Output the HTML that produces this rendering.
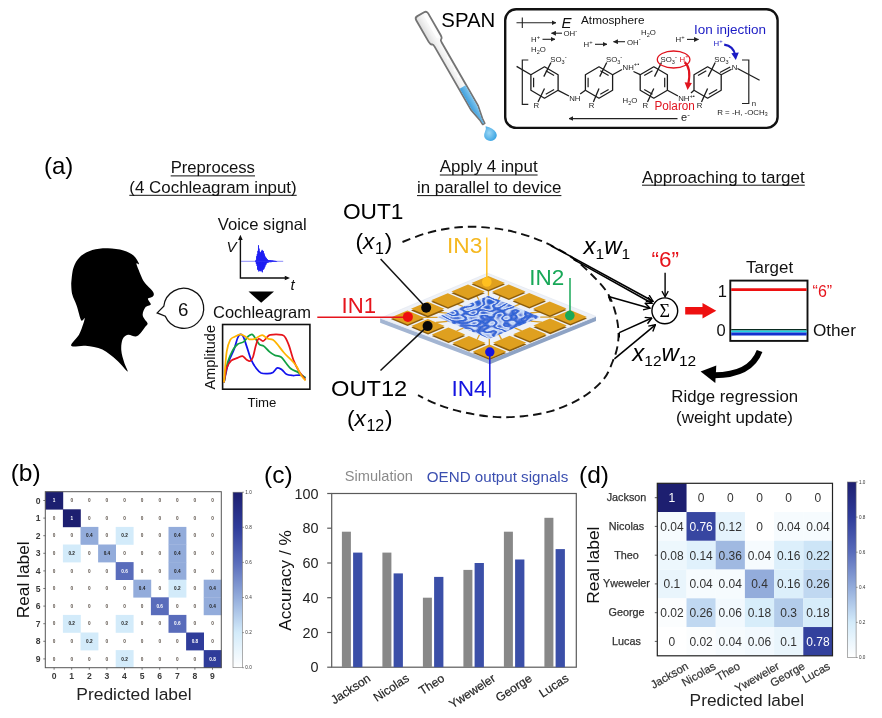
<!DOCTYPE html>
<html><head><meta charset="utf-8"><title>Figure</title>
<style>
html,body{margin:0;padding:0;background:#fff;}
svg{display:block;font-family:"Liberation Sans",sans-serif;}
.it{font-style:italic;}
</style></head><body>
<svg width="882" height="718" viewBox="0 0 882 718">
<defs>
<linearGradient id="cb" x1="0" y1="1" x2="0" y2="0">
<stop offset="0" stop-color="#ffffff"/>
<stop offset="0.2" stop-color="#d3ebfa"/>
<stop offset="0.4" stop-color="#93acdb"/>
<stop offset="0.6" stop-color="#596cbb"/>
<stop offset="0.8" stop-color="#2f3c9a"/>
<stop offset="1" stop-color="#1d1f70"/>
</linearGradient>
<linearGradient id="liq" x1="0" y1="0" x2="0" y2="1"><stop offset="0" stop-color="#7cc4ee"/><stop offset="1" stop-color="#3f9fdc"/></linearGradient>
<linearGradient id="glass" x1="0" y1="0" x2="0" y2="1"><stop offset="0" stop-color="#ffffff"/><stop offset="0.5" stop-color="#f4f4f4"/><stop offset="1" stop-color="#dcdcdc"/></linearGradient>
<radialGradient id="drop" cx="0.4" cy="0.45" r="0.7"><stop offset="0" stop-color="#9ad6f5"/><stop offset="1" stop-color="#2f9ee0"/></radialGradient>
<marker id="ah" viewBox="0 0 10 10" refX="9" refY="5" markerWidth="7" markerHeight="7" orient="auto-start-reverse"><path d="M0 0 L10 5 L0 10 Z" fill="#222"/></marker>
<marker id="ahs" viewBox="0 0 10 10" refX="9" refY="5" markerWidth="4.5" markerHeight="4.5" orient="auto-start-reverse"><path d="M0 0 L10 5 L0 10 Z" fill="#222"/></marker>
<marker id="av" viewBox="0 0 10 10" refX="9" refY="5" markerWidth="5.4" markerHeight="5.4" orient="auto"><path d="M1.5 0.8 L9 5 L1.5 9.2" fill="none" stroke="#000" stroke-width="1.7"/></marker>
<filter id="film" x="0" y="0" width="1" height="1">
<feTurbulence type="fractalNoise" baseFrequency="0.095 0.19" numOctaves="1" seed="3" result="n"/>
<feColorMatrix in="n" type="matrix" values="0 0 0 0 0  0 0 0 0 0  0 0 0 0 0  1 0 0 0 0" result="m0"/>
<feComponentTransfer in="m0" result="m"><feFuncA type="table" tableValues="0 0 0 0 0 0 .1 .7 1 .1 0 .1 1 .7 .1 0 0 0 0 0 0"/></feComponentTransfer>
<feFlood flood-color="#d2e3fb" result="w"/>
<feComposite in="w" in2="m" operator="in" result="wm"/>
<feFlood flood-color="#2a62d6" result="bl"/>
<feMerge><feMergeNode in="bl"/><feMergeNode in="wm"/></feMerge>
<feComposite in2="SourceGraphic" operator="in"/>
</filter>
</defs>
<rect width="882" height="718" fill="#fff"/>

<g id="top">
<g transform="translate(420.7 14.2) rotate(60.1)">
<path d="M3 -6.9 Q0 -6.9 0 -3.9 L0 3.9 Q0 6.9 3 6.9 L28 6.9 Q31.5 6.9 32 5 Q32.5 4.1 35 4.1 L108 4.1 L121 1.5 L126.5 1.1 L126.5 -1.1 L121 -1.5 L108 -4.1 L35 -4.1 Q32.5 -4.1 32 -5 Q31.5 -6.9 28 -6.9 Z" fill="url(#glass)" stroke="#747474" stroke-width="1.8" stroke-linejoin="round"/>
<path d="M84 -3.3 L108 -3.3 L121 -0.9 L126 -0.6 L126 0.6 L121 0.9 L108 3.3 L84 3.3 Z" fill="url(#liq)"/>
<path d="M4 -3.2 L28 -3.2" stroke="#fff" stroke-width="2.6" stroke-linecap="round" opacity="0.9"/>
<path d="M50 -1.5 L53 -1.5 M57 -1.5 L60 -1.5 M64 -1.5 L67 -1.5 M71 -1.5 L74 -1.5" stroke="#fff" stroke-width="1.4"/>
</g>
<path d="M485.6 126.2 Q486.5 129 484.9 132 Q482.8 136.5 486.2 139.6 Q490 142.3 494.3 139.8 Q498 136.6 496 132.4 Q493.5 128 485.6 126.2 Z" fill="url(#drop)"/>
<text x="441.3" y="27.2" font-size="19.8" textLength="54" lengthAdjust="spacingAndGlyphs" fill="#000">SPAN</text>
<rect x="505.2" y="9.3" width="272.4" height="118.6" rx="11" ry="11" fill="#fff" stroke="#111" stroke-width="2.4"/>
<g stroke="#222" stroke-width="1.1" fill="none">
<path d="M516.5 22.7 L556 22.7" marker-end="url(#ahs)"/><path d="M522.3 17.5 L522.3 27.9"/>
</g>
<text x="561.5" y="27.6" font-size="15" class="it" fill="#111">E</text>
<text x="581" y="24" font-size="11.8" fill="#111" textLength="63.5" lengthAdjust="spacingAndGlyphs">Atmosphere</text>
<path d="M562.0 33.2 L551.5 33.2" stroke="#222" stroke-width="1.1" fill="none" marker-end="url(#ahs)"/>
<text x="563.5" y="36.0" font-size="7.8" fill="#222" text-anchor="start">OH<tspan font-size="5.8" dy="-3.4">-</tspan></text>
<text x="531.0" y="42.0" font-size="7.8" fill="#222" text-anchor="start">H<tspan font-size="5.8" dy="-3.4">+</tspan></text>
<path d="M542.5 39.3 L555.0 39.3" stroke="#222" stroke-width="1.1" fill="none" marker-end="url(#ahs)"/>
<text x="531" y="52" font-size="7.8" fill="#222">H<tspan font-size="5.5" dy="1.8">2</tspan><tspan dy="-1.8">O</tspan></text>
<text x="583.5" y="47.0" font-size="7.8" fill="#222" text-anchor="start">H<tspan font-size="5.8" dy="-3.4">+</tspan></text>
<path d="M595.0 44.3 L607.0 44.3" stroke="#222" stroke-width="1.1" fill="none" marker-end="url(#ahs)"/>
<path d="M625.0 41.7 L613.5 41.7" stroke="#222" stroke-width="1.1" fill="none" marker-end="url(#ahs)"/>
<text x="627.0" y="44.5" font-size="7.8" fill="#222" text-anchor="start">OH<tspan font-size="5.8" dy="-3.4">-</tspan></text>
<text x="641" y="35" font-size="7.8" fill="#222">H<tspan font-size="5.5" dy="1.8">2</tspan><tspan dy="-1.8">O</tspan></text>
<text x="675.5" y="42.0" font-size="7.8" fill="#222" text-anchor="start">H<tspan font-size="5.8" dy="-3.4">+</tspan></text>
<path d="M687.0 39.4 L698.5 39.4" stroke="#222" stroke-width="1.1" fill="none" marker-end="url(#ahs)"/>
<text x="622.5" y="103" font-size="7.8" fill="#222">H<tspan font-size="5.5" dy="1.8">2</tspan><tspan dy="-1.8">O</tspan></text>
<text x="694" y="34.4" font-size="13.6" fill="#1b1bc4" textLength="72" lengthAdjust="spacingAndGlyphs">Ion injection</text>
<text x="713.5" y="46.3" font-size="7.8" fill="#1b1bc4" text-anchor="start">H<tspan font-size="5.8" dy="-3.4">+</tspan></text>
<path d="M724.2 44.6 Q733.5 46 735.2 55" stroke="#1b1bc4" stroke-width="2.2" fill="none"/><path d="M731.3 53.2 L735.8 60 L738.8 52.4 Z" fill="#1b1bc4"/>
<g>
<path d="M544.5 66.8 L558.1 74.7 L558.1 90.3 L544.5 98.2 L530.9 90.3 L530.9 74.7 Z" fill="none" stroke="#1c1c1c" stroke-width="1.3" stroke-linejoin="round"/>
<path d="M545.8 70.7 L554.1 75.5" stroke="#1c1c1c" stroke-width="1.2" fill="none"/>
<path d="M554.1 89.5 L545.8 94.3" stroke="#1c1c1c" stroke-width="1.2" fill="none"/>
<path d="M533.6 87.3 L533.6 77.7" stroke="#1c1c1c" stroke-width="1.2" fill="none"/>
<path d="M599.0 66.8 L612.6 74.7 L612.6 90.3 L599.0 98.2 L585.4 90.3 L585.4 74.7 Z" fill="none" stroke="#1c1c1c" stroke-width="1.3" stroke-linejoin="round"/>
<path d="M600.3 70.7 L608.6 75.5" stroke="#1c1c1c" stroke-width="1.2" fill="none"/>
<path d="M608.6 89.5 L600.3 94.3" stroke="#1c1c1c" stroke-width="1.2" fill="none"/>
<path d="M588.1 87.3 L588.1 77.7" stroke="#1c1c1c" stroke-width="1.2" fill="none"/>
<path d="M653.8 66.8 L667.4 74.7 L667.4 90.3 L653.8 98.2 L640.2 90.3 L640.2 74.7 Z" fill="none" stroke="#1c1c1c" stroke-width="1.3" stroke-linejoin="round"/>
<path d="M644.2 75.5 L652.5 70.7" stroke="#1c1c1c" stroke-width="1.2" fill="none"/>
<path d="M664.7 77.7 L664.7 87.3" stroke="#1c1c1c" stroke-width="1.2" fill="none"/>
<path d="M652.5 94.3 L644.2 89.5" stroke="#1c1c1c" stroke-width="1.2" fill="none"/>
<path d="M707.6 66.8 L721.2 74.7 L721.2 90.3 L707.6 98.2 L694.0 90.3 L694.0 74.7 Z" fill="none" stroke="#1c1c1c" stroke-width="1.3" stroke-linejoin="round"/>
<path d="M698.0 75.5 L706.3 70.7" stroke="#1c1c1c" stroke-width="1.2" fill="none"/>
<path d="M717.2 89.5 L708.9 94.3" stroke="#1c1c1c" stroke-width="1.2" fill="none"/>
<path d="M516.6 66.4 L530.9 74.7" stroke="#1c1c1c" stroke-width="1.30" fill="none"/>
<path d="M551.0 62.5 L543.8 76.6" stroke="#1c1c1c" stroke-width="1.30" fill="none"/>
<path d="M544.5 88.5 L538.0 102.0" stroke="#1c1c1c" stroke-width="1.30" fill="none"/>
<text x="550.3" y="62.0" font-size="7.8" fill="#222" text-anchor="start">SO<tspan font-size="5.5" dy="1.8">3</tspan><tspan font-size="5.8" dy="-5.2">-</tspan></text>
<text x="533.6" y="108.3" font-size="7.8" fill="#222">R</text>
<path d="M558.1 90.3 L569.0 96.0" stroke="#1c1c1c" stroke-width="1.30" fill="none"/>
<text x="569.2" y="101" font-size="7.8" fill="#222">NH</text>
<path d="M580.2 94.0 L585.4 90.3" stroke="#1c1c1c" stroke-width="1.30" fill="none"/>
<path d="M528.3 60 L522.3 60 L522.3 104.3 L528.3 104.3" fill="none" stroke="#222" stroke-width="1.2"/>
<path d="M606.7 62.5 L599.7 76.6" stroke="#1c1c1c" stroke-width="1.30" fill="none"/>
<path d="M599.0 88.5 L593.4 102.0" stroke="#1c1c1c" stroke-width="1.30" fill="none"/>
<text x="606.0" y="62.0" font-size="7.8" fill="#222" text-anchor="start">SO<tspan font-size="5.5" dy="1.8">3</tspan><tspan font-size="5.8" dy="-5.2">-</tspan></text>
<text x="588.7" y="108.3" font-size="7.8" fill="#222">R</text>
<path d="M612.6 74.7 L622.0 69.5" stroke="#1c1c1c" stroke-width="1.30" fill="none"/>
<text x="622.6" y="69.5" font-size="7.8" fill="#222" text-anchor="start">NH<tspan font-size="5.8" dy="-3.4">+•</tspan></text>
<path d="M633.5 71.5 L640.2 74.7" stroke="#1c1c1c" stroke-width="1.30" fill="none"/>
<path d="M661.5 62.5 L654.5 76.6" stroke="#1c1c1c" stroke-width="1.30" fill="none"/>
<path d="M653.8 88.5 L647.5 102.0" stroke="#1c1c1c" stroke-width="1.30" fill="none"/>
<text x="642.5" y="108.3" font-size="7.8" fill="#222">R</text>
<ellipse cx="673.6" cy="59.5" rx="16.3" ry="8.5" fill="none" stroke="#e0141e" stroke-width="1.3"/>
<text x="660.6" y="62.3" font-size="7.8" fill="#222" text-anchor="start">SO<tspan font-size="5.5" dy="1.8">3</tspan><tspan font-size="5.8" dy="-5.2">-</tspan></text>
<text x="679.5" y="61.5" font-size="7.8" fill="#e0141e" text-anchor="start">H<tspan font-size="5.8" dy="-3.4">+</tspan></text>
<path d="M667.4 90.3 L678.0 96.0" stroke="#1c1c1c" stroke-width="1.30" fill="none"/>
<text x="678.2" y="101.0" font-size="7.8" fill="#222" text-anchor="start">NH<tspan font-size="5.8" dy="-3.4">+•</tspan></text>
<path d="M691.0 93.0 L694.0 90.3" stroke="#1c1c1c" stroke-width="1.30" fill="none"/>
<path d="M684.6 62.2 Q691.5 68 688.3 84" stroke="#e0141e" stroke-width="2.2" fill="none"/><path d="M684.6 82.3 L687.6 90 L691.9 83 Z" fill="#e0141e"/>
<text x="654.4" y="110.2" font-size="12" fill="#e0141e" textLength="40.5" lengthAdjust="spacingAndGlyphs">Polaron</text>
<path d="M715.2 62.5 L708.2 76.6" stroke="#1c1c1c" stroke-width="1.30" fill="none"/>
<path d="M707.6 88.5 L701.5 102.0" stroke="#1c1c1c" stroke-width="1.30" fill="none"/>
<text x="714.3" y="62.0" font-size="7.8" fill="#222" text-anchor="start">SO<tspan font-size="5.5" dy="1.8">3</tspan><tspan font-size="5.8" dy="-5.2">-</tspan></text>
<text x="696.8" y="108.3" font-size="7.8" fill="#222">R</text>
<path d="M721.2 74.7 L731.5 69.2" stroke="#1c1c1c" stroke-width="1.30" fill="none"/>
<path d="M719.9 72.5 L730.2 67.0" stroke="#1c1c1c" stroke-width="1.30" fill="none"/>
<text x="731.8" y="69.8" font-size="7.8" fill="#222">N</text>
<path d="M737.5 68.5 L759.6 80.3" stroke="#1c1c1c" stroke-width="1.30" fill="none"/>
<path d="M742 60 L748.8 60 L748.8 103.5 L742 103.5" fill="none" stroke="#222" stroke-width="1.2"/>
<text x="751.7" y="106" font-size="7.8" fill="#222">n</text>
<text x="717.2" y="114.6" font-size="7.9" fill="#222">R = -H, -OCH<tspan font-size="5.2" dy="1.6">3</tspan></text>
</g>
<path d="M677.5 118.6 L569 118.6" stroke="#222" stroke-width="1.1" fill="none" marker-end="url(#ahs)"/>
<text x="681" y="121" font-size="11" fill="#222">e<tspan font-size="8" dy="-4">-</tspan></text>
</g>
<g id="a">
<text x="44" y="174" font-size="24" fill="#000">(a)</text>
<text x="212.8" y="173.3" font-size="16.7" text-anchor="middle" textLength="84.3" lengthAdjust="spacingAndGlyphs" fill="#111">Preprocess</text>
<path d="M170.7 175.9 L255.0 175.9" stroke="#111" stroke-width="1"/>
<text x="213.0" y="192.7" font-size="16.8" text-anchor="middle" textLength="167.4" lengthAdjust="spacingAndGlyphs" fill="#111">(4 Cochleagram input)</text>
<path d="M129.3 195.3 L296.7 195.3" stroke="#111" stroke-width="1"/>
<text x="488.7" y="172.4" font-size="16.7" text-anchor="middle" textLength="97.8" lengthAdjust="spacingAndGlyphs" fill="#111">Apply 4 input</text>
<path d="M439.8 175.0 L537.6 175.0" stroke="#111" stroke-width="1"/>
<text x="489.2" y="193.0" font-size="16.7" text-anchor="middle" textLength="144.3" lengthAdjust="spacingAndGlyphs" fill="#111">in parallel to device</text>
<path d="M417.0 195.6 L561.4 195.6" stroke="#111" stroke-width="1"/>
<text x="723.4" y="182.6" font-size="16.7" text-anchor="middle" textLength="162.8" lengthAdjust="spacingAndGlyphs" fill="#111">Approaching to target</text>
<path d="M642.0 185.2 L804.8 185.2" stroke="#111" stroke-width="1"/>
<path d="M71.2 283.5 C71.5 280.9 71.9 272.3 73.4 267.9 C74.9 263.4 76.9 259.7 80.1 256.7 C83.2 253.8 87.7 251.5 92.3 250.0 C97.0 248.6 102.7 248.2 107.9 248.3 C113.1 248.3 119.2 249.3 123.5 250.5 C127.8 251.7 130.9 253.4 133.5 255.6 C136.1 257.8 138.6 262.6 139.1 263.9 C139.6 265.2 136.5 262.4 136.4 263.4 C136.4 264.5 137.7 267.5 138.7 270.1 C139.7 272.7 141.2 276.6 142.4 279.0 C143.7 281.4 144.8 282.8 146.2 284.6 C147.7 286.4 150.1 288.2 151.4 289.7 C152.6 291.2 153.6 292.5 153.8 293.7 C154.0 294.9 153.4 296.0 152.5 296.8 C151.5 297.6 148.6 297.9 148.0 298.6 C147.5 299.4 148.7 300.3 149.1 301.3 C149.6 302.3 151.3 303.6 150.7 304.6 C150.1 305.7 146.7 305.9 145.3 307.5 C144.0 309.1 142.8 312.3 142.7 314.2 C142.5 316.1 143.6 317.5 144.5 319.1 C145.3 320.7 147.5 322.2 147.6 323.6 C147.7 324.9 146.3 325.5 145.1 327.1 C143.9 328.8 141.8 332.0 140.2 333.6 C138.7 335.1 137.8 336.3 135.8 336.5 C133.7 336.7 130.2 334.3 128.0 334.7 C125.8 335.1 123.7 336.6 122.6 339.2 C121.5 341.8 121.0 346.4 121.3 350.3 C121.5 354.2 123.1 359.0 124.2 362.5 C125.2 366.1 128.7 371.8 127.5 371.5 C126.3 371.1 121.0 364.0 116.8 360.3 C112.6 356.7 107.5 352.0 102.4 349.6 C97.2 347.2 90.8 346.5 85.6 345.8 C80.4 345.2 72.3 347.7 71.2 345.8 C70.0 344.0 76.9 338.4 79.0 334.7 C81.0 331.0 82.5 326.3 83.4 323.6 C84.3 320.8 84.9 318.5 84.5 318.0 C84.2 317.4 82.5 322.3 81.2 320.2 C79.9 318.2 78.2 310.0 76.7 305.7 C75.2 301.5 73.2 298.3 72.3 294.6 C71.3 290.9 71.3 285.3 71.2 283.5 Z" fill="#000"/>
<path d="M163.8 306.3 A20 20 0 1 1 165.3 316.2 L157.2 312.9 Z" fill="#fff" stroke="#111" stroke-width="1.3" stroke-linejoin="miter"/>
<text x="183.2" y="315.9" font-size="18.7" text-anchor="middle" fill="#111">6</text>
<text x="217.7" y="230" font-size="16.5" textLength="89" lengthAdjust="spacingAndGlyphs" fill="#111">Voice signal</text>
<path d="M240.4 238 L240.4 278 L286.5 278" fill="none" stroke="#111" stroke-width="1.4"/>
<path d="M238.1 240 L240.4 234.8 L242.7 240 Z M284.8 275.7 L290 278 L284.8 280.3 Z" fill="#111"/>
<text x="226.5" y="251.7" font-size="15" class="it" fill="#111">V</text>
<text x="290.6" y="290.2" font-size="15" class="it" fill="#111">t</text>
<path d="M255.5 260.8 L255.8 262.1 L256.1 259.9 L256.4 264.0 L256.7 256.2 L257.0 265.9 L257.3 254.1 L257.6 269.5 L257.9 250.9 L258.2 270.1 L258.5 245.3 L258.8 271.5 L259.1 248.6 L259.4 270.9 L259.7 251.4 L260.0 269.6 L260.3 252.3 L260.6 271.1 L260.9 252.5 L261.2 271.4 L261.5 251.1 L261.8 270.1 L262.1 249.9 L262.4 272.3 L262.7 250.8 L263.0 269.8 L263.3 251.0 L263.6 269.4 L263.9 253.2 L264.2 268.5 L264.5 254.6 L264.8 267.1 L265.1 256.4 L265.4 265.4 L265.7 257.3 L266.0 264.6 L266.3 258.0 L266.6 263.3 L266.9 259.3 L267.2 262.8 L267.5 259.4 L267.8 262.7 L268.1 260.0 L268.4 262.4 L268.7 260.2 L269.0 262.1 L269.3 260.3 L269.6 262.1 L269.9 260.3 L270.2 262.2 L270.5 260.3 L270.8 262.1 L271.1 260.4 L271.4 262.1 L271.7 260.5 L272.0 261.9 L272.3 260.5 L272.6 261.9 L272.9 260.6 L273.2 261.8 L273.5 260.8 L273.8 261.7 L274.1 260.8 L274.4 261.7 L274.7 260.9 L275.0 261.6 L275.3 260.9 L275.6 261.7 L275.9 261.0 L276.2 261.6 L276.5 261.0 L276.8 261.5" fill="none" stroke="#1a1af2" stroke-width="0.8" stroke-linejoin="round"/>
<path d="M241 261.3 L283.2 261.3" stroke="#3a3af5" stroke-width="0.6"/>
<path d="M248.5 291.5 L274 291.5 L261.2 302.8 Z" fill="#000"/>
<text x="213" y="318.2" font-size="16.5" textLength="98" lengthAdjust="spacingAndGlyphs" fill="#111">Cochleagram</text>
<rect x="222.6" y="324.5" width="87.3" height="64.7" fill="#fff" stroke="#111" stroke-width="1.6"/>
<text transform="translate(215.3 389.5) rotate(-90)" font-size="13.8" textLength="64.5" lengthAdjust="spacingAndGlyphs" fill="#111">Amplitude</text>
<text x="262" y="407.4" font-size="13.2" text-anchor="middle" fill="#111">Time</text>
<path d="M224.0 382.4 C224.7 379.1 226.8 367.9 228.5 362.5 C230.2 357.0 232.4 353.8 233.9 349.8 C235.5 345.7 236.5 340.6 237.6 338.0 C238.6 335.4 239.4 334.7 240.3 334.4 C241.2 334.1 241.9 334.2 243.0 336.2 C244.1 338.1 245.3 342.2 246.6 346.1 C248.0 350.1 249.5 356.0 251.1 359.7 C252.8 363.5 254.9 366.6 256.6 368.8 C258.2 371.0 259.3 372.1 261.1 373.0 C262.9 373.8 265.5 373.8 267.5 373.7 C269.4 373.6 271.2 373.4 272.9 372.4 C274.5 371.4 275.9 368.3 277.4 367.9 C278.9 367.4 280.4 368.6 281.9 369.7 C283.5 370.8 284.7 373.3 286.5 374.2 C288.3 375.2 290.5 375.3 292.8 375.5 C295.1 375.6 297.9 374.7 300.1 375.1 C302.2 375.5 304.6 377.4 305.5 377.8" fill="none" stroke="#1212ee" stroke-width="1.75" stroke-linejoin="round"/>
<path d="M224.0 382.4 C224.6 379.1 226.1 367.9 227.6 362.5 C229.1 357.0 231.4 352.8 233.0 349.8 C234.7 346.8 235.8 345.7 237.6 344.3 C239.4 343.0 242.1 343.0 243.9 341.6 C245.7 340.3 247.1 337.4 248.4 336.2 C249.8 335.0 251.0 334.2 252.1 334.4 C253.1 334.6 253.6 335.8 254.8 337.5 C256.0 339.1 257.8 342.9 259.3 344.3 C260.8 345.8 262.2 344.9 263.8 346.1 C265.5 347.4 267.5 350.1 269.3 351.6 C271.1 353.1 272.7 354.3 274.7 355.2 C276.7 356.1 279.2 355.8 281.0 357.0 C282.8 358.2 283.9 360.5 285.6 362.5 C287.2 364.4 288.9 367.1 291.0 368.8 C293.1 370.5 295.8 370.9 298.2 372.4 C300.7 373.9 304.3 376.9 305.5 377.8" fill="none" stroke="#12a044" stroke-width="1.75" stroke-linejoin="round"/>
<path d="M224.0 382.4 C224.4 380.0 225.5 371.5 226.7 367.9 C227.9 364.3 229.4 362.3 231.2 360.6 C233.0 359.0 235.7 358.7 237.6 357.9 C239.4 357.2 240.9 355.8 242.5 356.1 C244.0 356.4 245.3 358.9 246.6 359.7 C247.9 360.5 249.2 361.5 250.2 361.0 C251.3 360.5 252.1 359.5 253.0 357.0 C253.9 354.5 254.8 349.2 255.7 346.1 C256.6 343.1 257.2 339.7 258.4 338.9 C259.6 338.1 261.6 341.2 262.9 341.1 C264.3 340.9 265.3 339.0 266.5 338.0 C267.8 337.0 267.6 335.4 270.2 334.9 C272.7 334.4 279.4 334.4 281.9 334.9 C284.5 335.4 284.4 336.1 285.6 338.0 C286.8 339.9 287.8 342.4 289.2 346.1 C290.5 349.9 292.1 356.4 293.7 360.6 C295.4 364.9 297.2 368.3 299.1 371.5 C301.1 374.7 304.4 378.3 305.5 379.7" fill="none" stroke="#e6141c" stroke-width="1.75" stroke-linejoin="round"/>
<path d="M224.0 382.4 C224.4 377.2 225.6 358.7 226.7 351.6 C227.8 344.5 229.0 342.3 230.3 339.8 C231.7 337.3 233.2 337.6 234.8 336.7 C236.5 335.8 238.6 334.5 240.3 334.4 C241.9 334.3 243.3 335.4 244.8 336.2 C246.3 337.0 247.7 338.8 249.3 339.3 C251.0 339.7 253.1 339.4 254.8 338.9 C256.4 338.4 257.9 336.8 259.3 336.2 C260.7 335.6 261.6 334.9 262.9 335.3 C264.3 335.7 265.8 337.8 267.5 338.5 C269.1 339.3 271.2 338.8 272.9 339.8 C274.5 340.8 275.6 342.2 277.4 344.3 C279.2 346.5 281.5 349.9 283.8 352.5 C286.0 355.1 288.9 357.5 291.0 359.7 C293.1 362.0 294.8 363.5 296.4 366.1 C298.1 368.6 299.4 372.7 301.0 375.1 C302.5 377.5 304.7 379.7 305.5 380.6" fill="none" stroke="#ffb400" stroke-width="1.75" stroke-linejoin="round"/>
<path d="M402.5 242.0 C406.2 240.6 417.4 235.9 424.8 233.7 C432.2 231.5 439.6 229.9 447.0 228.7 C454.4 227.5 461.8 226.8 469.2 226.7 C476.6 226.6 484.0 227.2 491.4 228.0 C498.8 228.8 506.3 230.0 513.7 231.8 C521.1 233.6 529.0 236.2 535.9 238.8 C542.8 241.4 548.6 244.1 554.9 247.4 C561.1 250.7 567.4 254.0 573.4 258.4 C579.4 262.8 585.5 268.5 591.0 274.0 C596.5 279.5 602.7 285.8 606.6 291.6 C610.5 297.5 612.5 302.9 614.4 309.1 C616.3 315.3 617.8 322.5 618.3 328.7 C618.8 334.9 618.5 340.6 617.5 346.2 C616.5 351.8 614.9 356.4 612.5 362.0 C610.1 367.6 608.2 374.0 603.0 380.0 C597.8 386.0 589.8 392.9 581.3 398.0 C572.8 403.1 561.9 407.8 552.2 410.8 C542.5 413.8 532.9 415.2 523.2 416.2 C513.5 417.2 503.9 417.5 494.2 416.9 C484.5 416.3 474.2 414.5 465.1 412.6 C456.0 410.7 447.6 408.2 439.7 405.3 C431.8 402.4 421.6 396.9 418.0 395.2" fill="none" stroke="#111" stroke-width="1.9" stroke-dasharray="8.5 5"/>
<path d="M380.1 318.2 L489.8 359.6 L489.8 364.2 L380.1 322.8 Z" fill="#a3b5d2" />
<path d="M489.8 359.6 L596.0 316.4 L596.0 321.0 L489.8 364.2 Z" fill="#8ea3c4" />
<path d="M380.1 318.2 L487.6 273.2 L596.0 316.4 L489.8 359.6 Z" fill="#eef1f7" stroke="#dfe4ee" stroke-width="0.6"/>
<path d="M435.9 312.2 L447.3 313.2" stroke="#d9a02a" stroke-width="1.3"/>
<path d="M501.5 339.4 L499.0 334.6" stroke="#d9a02a" stroke-width="1.3"/>
<path d="M436.1 322.5 L447.5 321.4" stroke="#d9a02a" stroke-width="1.3"/>
<path d="M500.7 294.9 L498.4 299.7" stroke="#d9a02a" stroke-width="1.3"/>
<path d="M456.1 303.6 L463.1 306.5" stroke="#d9a02a" stroke-width="1.3"/>
<path d="M521.7 330.8 L514.7 327.9" stroke="#d9a02a" stroke-width="1.3"/>
<path d="M456.6 331.0 L463.4 328.0" stroke="#d9a02a" stroke-width="1.3"/>
<path d="M521.2 303.4 L514.4 306.4" stroke="#d9a02a" stroke-width="1.3"/>
<path d="M476.3 295.0 L478.8 299.8" stroke="#d9a02a" stroke-width="1.3"/>
<path d="M541.9 322.2 L530.5 321.2" stroke="#d9a02a" stroke-width="1.3"/>
<path d="M477.1 339.5 L479.4 334.7" stroke="#d9a02a" stroke-width="1.3"/>
<path d="M541.7 311.9 L530.3 313.0" stroke="#d9a02a" stroke-width="1.3"/>
<path d="M419.7 317.4 L437.6 317.3" stroke="#d9a02a" stroke-width="1.3"/>
<path d="M488.4 288.1 L488.5 295.7" stroke="#d9a02a" stroke-width="1.3"/>
<path d="M489.4 346.3 L489.3 338.7" stroke="#d9a02a" stroke-width="1.3"/>
<path d="M558.1 317.0 L540.2 317.1" stroke="#d9a02a" stroke-width="1.3"/>
<path d="M390.8 319.0 L407.4 312.0 L424.2 319.0 L407.6 326.0 Z" fill="#8a5c0c" />
<path d="M390.8 317.4 L407.4 310.4 L424.2 317.4 L407.6 324.4 Z" fill="#dfa01f" />
<path d="M411.3 327.5 L427.9 320.5 L444.7 327.5 L428.1 334.5 Z" fill="#8a5c0c" />
<path d="M411.3 325.9 L427.9 318.9 L444.7 325.9 L428.1 332.9 Z" fill="#dfa01f" />
<path d="M431.8 336.0 L448.4 329.0 L465.2 336.0 L448.6 343.0 Z" fill="#8a5c0c" />
<path d="M431.8 334.4 L448.4 327.4 L465.2 334.4 L448.6 341.4 Z" fill="#dfa01f" />
<path d="M452.3 344.5 L468.9 337.5 L485.7 344.5 L469.1 351.5 Z" fill="#8a5c0c" />
<path d="M452.3 342.9 L468.9 335.9 L485.7 342.9 L469.1 349.9 Z" fill="#dfa01f" />
<path d="M472.8 353.0 L489.4 346.0 L506.2 353.0 L489.6 360.0 Z" fill="#8a5c0c" />
<path d="M472.8 351.4 L489.4 344.4 L506.2 351.4 L489.6 358.4 Z" fill="#dfa01f" />
<path d="M411.0 310.4 L427.6 303.4 L444.4 310.4 L427.8 317.4 Z" fill="#8a5c0c" />
<path d="M411.0 308.8 L427.6 301.8 L444.4 308.8 L427.8 315.8 Z" fill="#dfa01f" />
<path d="M493.0 344.4 L509.6 337.4 L526.4 344.4 L509.8 351.4 Z" fill="#8a5c0c" />
<path d="M493.0 342.8 L509.6 335.8 L526.4 342.8 L509.8 349.8 Z" fill="#dfa01f" />
<path d="M431.2 301.8 L447.8 294.8 L464.6 301.8 L448.0 308.8 Z" fill="#8a5c0c" />
<path d="M431.2 300.2 L447.8 293.2 L464.6 300.2 L448.0 307.2 Z" fill="#dfa01f" />
<path d="M513.2 335.8 L529.8 328.8 L546.6 335.8 L530.0 342.8 Z" fill="#8a5c0c" />
<path d="M513.2 334.2 L529.8 327.2 L546.6 334.2 L530.0 341.2 Z" fill="#dfa01f" />
<path d="M451.4 293.2 L468.0 286.2 L484.8 293.2 L468.2 300.2 Z" fill="#8a5c0c" />
<path d="M451.4 291.6 L468.0 284.6 L484.8 291.6 L468.2 298.6 Z" fill="#dfa01f" />
<path d="M533.4 327.2 L550.0 320.2 L566.8 327.2 L550.2 334.2 Z" fill="#8a5c0c" />
<path d="M533.4 325.6 L550.0 318.6 L566.8 325.6 L550.2 332.6 Z" fill="#dfa01f" />
<path d="M471.6 284.6 L488.2 277.6 L505.0 284.6 L488.4 291.6 Z" fill="#8a5c0c" />
<path d="M471.6 283.0 L488.2 276.0 L505.0 283.0 L488.4 290.0 Z" fill="#dfa01f" />
<path d="M492.1 293.1 L508.7 286.1 L525.5 293.1 L508.9 300.1 Z" fill="#8a5c0c" />
<path d="M492.1 291.5 L508.7 284.5 L525.5 291.5 L508.9 298.5 Z" fill="#dfa01f" />
<path d="M512.6 301.6 L529.2 294.6 L546.0 301.6 L529.4 308.6 Z" fill="#8a5c0c" />
<path d="M512.6 300.0 L529.2 293.0 L546.0 300.0 L529.4 307.0 Z" fill="#dfa01f" />
<path d="M533.1 310.1 L549.7 303.1 L566.5 310.1 L549.9 317.1 Z" fill="#8a5c0c" />
<path d="M533.1 308.5 L549.7 301.5 L566.5 308.5 L549.9 315.5 Z" fill="#dfa01f" />
<path d="M553.6 318.6 L570.2 311.6 L587.0 318.6 L570.4 325.6 Z" fill="#8a5c0c" />
<path d="M553.6 317.0 L570.2 310.0 L587.0 317.0 L570.4 324.0 Z" fill="#dfa01f" />
<path d="M437.6 317.3 L488.5 295.7 L540.2 317.1 L489.3 338.7 Z" fill="#2a62d6" filter="url(#film)"/>
<path d="M317.3 317.2 L407.5 317.2" stroke="#e6141c" stroke-width="1.5"/>
<path d="M380.6 259 L426.2 307.7" stroke="#111" stroke-width="1.5"/>
<path d="M380.5 370.5 L427.6 326.1" stroke="#111" stroke-width="1.5"/>
<path d="M486.8 237.5 L486.8 282" stroke="#ffc020" stroke-width="1.5"/>
<path d="M570 278 L570 315.5" stroke="#18a858" stroke-width="1.5"/>
<path d="M489.8 352 L489.8 397.5" stroke="#1414e0" stroke-width="1.5"/>
<circle cx="407.9" cy="316.9" r="5" fill="#ee1010"/>
<circle cx="426.2" cy="307.7" r="5" fill="#080808"/>
<circle cx="427.6" cy="326.1" r="5" fill="#080808"/>
<circle cx="486.8" cy="282" r="4.8" fill="#ffc020"/>
<circle cx="569.8" cy="315.6" r="4.8" fill="#18a858"/>
<circle cx="489.8" cy="352" r="4.7" fill="#1414e0"/>
<text x="341.5" y="312.9" font-size="22.6" textLength="34.5" lengthAdjust="spacingAndGlyphs" fill="#e6141c" >IN1</text>
<text x="447.0" y="253.2" font-size="22.6" textLength="35.3" lengthAdjust="spacingAndGlyphs" fill="#f5b820" >IN3</text>
<text x="529.3" y="285.0" font-size="22.6" textLength="35.0" lengthAdjust="spacingAndGlyphs" fill="#18a858" >IN2</text>
<text x="451.4" y="396.0" font-size="22.6" textLength="35.3" lengthAdjust="spacingAndGlyphs" fill="#1414e0" >IN4</text>
<text x="342.9" y="219.0" font-size="22.6" textLength="60.5" lengthAdjust="spacingAndGlyphs" fill="#000" >OUT1</text>
<text x="331.0" y="396.3" font-size="22.6" textLength="76.2" lengthAdjust="spacingAndGlyphs" fill="#000" >OUT12</text>
<text x="355.5" y="249.3" font-size="22.6" fill="#000">(<tspan class="it">x</tspan><tspan font-size="16" dy="5" dx="0.6">1</tspan><tspan dy="-5" dx="0.8">)</tspan></text>
<text x="347" y="425.5" font-size="22.6" fill="#000">(<tspan class="it">x</tspan><tspan font-size="16" dy="5" dx="0.6">12</tspan><tspan dy="-5" dx="0.8">)</tspan></text>
<text x="583.5" y="254.3" font-size="24" fill="#000"><tspan class="it">x</tspan><tspan font-size="15.5" dy="5">1</tspan><tspan class="it" dy="-5">w</tspan><tspan font-size="15.5" dy="5">1</tspan></text>
<text x="632.3" y="361" font-size="24" fill="#000"><tspan class="it">x</tspan><tspan font-size="15.5" dy="5">12</tspan><tspan class="it" dy="-5">w</tspan><tspan font-size="15.5" dy="5">12</tspan></text>
<path d="M551.0 245.7 L653.0 301.2" stroke="#000" stroke-width="1.55" fill="none" marker-end="url(#av)"/>
<path d="M573.4 259.4 L652.0 303.2" stroke="#000" stroke-width="1.55" fill="none" marker-end="url(#av)"/>
<path d="M608.5 296.5 L650.0 308.2" stroke="#000" stroke-width="1.55" fill="none" marker-end="url(#av)"/>
<path d="M619.3 332.6 L651.8 318.0" stroke="#000" stroke-width="1.55" fill="none" marker-end="url(#av)"/>
<path d="M614.4 358.9 L655.4 324.8" stroke="#000" stroke-width="1.55" fill="none" marker-end="url(#av)"/>
<path d="M608.5 296.5 L610.5 301.5 M619.3 332.6 L619.3 337.5" stroke="#000" stroke-width="1.4"/>
<circle cx="664.8" cy="310.8" r="12.9" fill="#fff" stroke="#000" stroke-width="1.4"/>
<text x="664.8" y="317" font-size="18" text-anchor="middle" font-family="'Liberation Serif',serif" fill="#000">Σ</text>
<text x="665.3" y="267" font-size="22.5" text-anchor="middle" fill="#e6141c">“6”</text>
<path d="M665.1 272.8 L665.1 296.8" stroke="#000" stroke-width="1.4" fill="none" marker-end="url(#av)"/>
<path d="M685.2 307 L702.5 307 L702.5 302.9 L716.3 310.7 L702.5 318.5 L702.5 314.4 L685.2 314.4 Z" fill="#ee1010"/>
<text x="769.6" y="272.9" font-size="16.7" text-anchor="middle" textLength="47" lengthAdjust="spacingAndGlyphs" fill="#111">Target</text>
<rect x="730.3" y="280.6" width="77.2" height="60.3" fill="#fff" stroke="#111" stroke-width="1.9"/>
<path d="M731.2 289.7 L806.6 289.7" stroke="#ee1010" stroke-width="2.8"/>
<path d="M731.2 329.7 L806.6 329.7" stroke="#0a2a20" stroke-width="1.5"/>
<path d="M731.2 331.5 L806.6 331.5" stroke="#22d4e0" stroke-width="2.2"/>
<path d="M731.2 334 L806.6 334" stroke="#1530d0" stroke-width="2.9"/>
<text x="717.8" y="296.7" font-size="16.5" fill="#111">1</text>
<text x="716.6" y="336.2" font-size="16.5" fill="#111">0</text>
<text x="812.6" y="296.8" font-size="16" fill="#e6141c">“6”</text>
<text x="812.9" y="336.2" font-size="16.5" textLength="43" lengthAdjust="spacingAndGlyphs" fill="#111">Other</text>
<path d="M759.6 351 C754 366 741 375.5 713 375.2" stroke="#000" stroke-width="6" fill="none"/>
<path d="M716.3 365.6 L700.6 371.6 L715.3 383 Z" fill="#000"/>
<text x="734.7" y="401.6" font-size="16.7" text-anchor="middle" textLength="126.7" lengthAdjust="spacingAndGlyphs" fill="#111">Ridge regression</text>
<text x="734.5" y="423" font-size="16.7" text-anchor="middle" textLength="117" lengthAdjust="spacingAndGlyphs" fill="#111">(weight update)</text>
</g>
<g id="b">
<text x="10.7" y="480.5" font-size="24.5" fill="#000">(b)</text>
<rect x="45.30" y="491.70" width="17.90" height="17.90" fill="#1d1f70"/>
<rect x="62.90" y="509.30" width="17.90" height="17.90" fill="#1d1f70"/>
<rect x="80.50" y="526.90" width="17.90" height="17.90" fill="#93acdb"/>
<rect x="115.70" y="526.90" width="17.90" height="17.90" fill="#d3ebfa"/>
<rect x="168.50" y="526.90" width="17.90" height="17.90" fill="#93acdb"/>
<rect x="62.90" y="544.50" width="17.90" height="17.90" fill="#d3ebfa"/>
<rect x="98.10" y="544.50" width="17.90" height="17.90" fill="#93acdb"/>
<rect x="168.50" y="544.50" width="17.90" height="17.90" fill="#93acdb"/>
<rect x="115.70" y="562.10" width="17.90" height="17.90" fill="#596cbb"/>
<rect x="168.50" y="562.10" width="17.90" height="17.90" fill="#93acdb"/>
<rect x="133.30" y="579.70" width="17.90" height="17.90" fill="#93acdb"/>
<rect x="168.50" y="579.70" width="17.90" height="17.90" fill="#d3ebfa"/>
<rect x="203.70" y="579.70" width="17.90" height="17.90" fill="#93acdb"/>
<rect x="150.90" y="597.30" width="17.90" height="17.90" fill="#596cbb"/>
<rect x="203.70" y="597.30" width="17.90" height="17.90" fill="#93acdb"/>
<rect x="62.90" y="614.90" width="17.90" height="17.90" fill="#d3ebfa"/>
<rect x="115.70" y="614.90" width="17.90" height="17.90" fill="#d3ebfa"/>
<rect x="168.50" y="614.90" width="17.90" height="17.90" fill="#596cbb"/>
<rect x="80.50" y="632.50" width="17.90" height="17.90" fill="#d3ebfa"/>
<rect x="186.10" y="632.50" width="17.90" height="17.90" fill="#2f3c9a"/>
<rect x="115.70" y="650.10" width="17.90" height="17.90" fill="#d3ebfa"/>
<rect x="203.70" y="650.10" width="17.90" height="17.90" fill="#2f3c9a"/>
<rect x="45.3" y="491.7" width="176.0" height="176.0" fill="none" stroke="#555" stroke-width="1"/>
<g font-size="4.7" text-anchor="middle" font-weight="bold">
<text x="54.1" y="502.2" fill="#fff">1</text>
<text x="71.7" y="502.2" fill="#5a5048">0</text>
<text x="89.3" y="502.2" fill="#5a5048">0</text>
<text x="106.9" y="502.2" fill="#5a5048">0</text>
<text x="124.5" y="502.2" fill="#5a5048">0</text>
<text x="142.1" y="502.2" fill="#5a5048">0</text>
<text x="159.7" y="502.2" fill="#5a5048">0</text>
<text x="177.3" y="502.2" fill="#5a5048">0</text>
<text x="194.9" y="502.2" fill="#5a5048">0</text>
<text x="212.5" y="502.2" fill="#5a5048">0</text>
<text x="54.1" y="519.8" fill="#5a5048">0</text>
<text x="71.7" y="519.8" fill="#fff">1</text>
<text x="89.3" y="519.8" fill="#5a5048">0</text>
<text x="106.9" y="519.8" fill="#5a5048">0</text>
<text x="124.5" y="519.8" fill="#5a5048">0</text>
<text x="142.1" y="519.8" fill="#5a5048">0</text>
<text x="159.7" y="519.8" fill="#5a5048">0</text>
<text x="177.3" y="519.8" fill="#5a5048">0</text>
<text x="194.9" y="519.8" fill="#5a5048">0</text>
<text x="212.5" y="519.8" fill="#5a5048">0</text>
<text x="54.1" y="537.4" fill="#5a5048">0</text>
<text x="71.7" y="537.4" fill="#5a5048">0</text>
<text x="89.3" y="537.4" fill="#222">0.4</text>
<text x="106.9" y="537.4" fill="#5a5048">0</text>
<text x="124.5" y="537.4" fill="#222">0.2</text>
<text x="142.1" y="537.4" fill="#5a5048">0</text>
<text x="159.7" y="537.4" fill="#5a5048">0</text>
<text x="177.3" y="537.4" fill="#222">0.4</text>
<text x="194.9" y="537.4" fill="#5a5048">0</text>
<text x="212.5" y="537.4" fill="#5a5048">0</text>
<text x="54.1" y="555.0" fill="#5a5048">0</text>
<text x="71.7" y="555.0" fill="#222">0.2</text>
<text x="89.3" y="555.0" fill="#5a5048">0</text>
<text x="106.9" y="555.0" fill="#222">0.4</text>
<text x="124.5" y="555.0" fill="#5a5048">0</text>
<text x="142.1" y="555.0" fill="#5a5048">0</text>
<text x="159.7" y="555.0" fill="#5a5048">0</text>
<text x="177.3" y="555.0" fill="#222">0.4</text>
<text x="194.9" y="555.0" fill="#5a5048">0</text>
<text x="212.5" y="555.0" fill="#5a5048">0</text>
<text x="54.1" y="572.6" fill="#5a5048">0</text>
<text x="71.7" y="572.6" fill="#5a5048">0</text>
<text x="89.3" y="572.6" fill="#5a5048">0</text>
<text x="106.9" y="572.6" fill="#5a5048">0</text>
<text x="124.5" y="572.6" fill="#fff">0.6</text>
<text x="142.1" y="572.6" fill="#5a5048">0</text>
<text x="159.7" y="572.6" fill="#5a5048">0</text>
<text x="177.3" y="572.6" fill="#222">0.4</text>
<text x="194.9" y="572.6" fill="#5a5048">0</text>
<text x="212.5" y="572.6" fill="#5a5048">0</text>
<text x="54.1" y="590.2" fill="#5a5048">0</text>
<text x="71.7" y="590.2" fill="#5a5048">0</text>
<text x="89.3" y="590.2" fill="#5a5048">0</text>
<text x="106.9" y="590.2" fill="#5a5048">0</text>
<text x="124.5" y="590.2" fill="#5a5048">0</text>
<text x="142.1" y="590.2" fill="#222">0.4</text>
<text x="159.7" y="590.2" fill="#5a5048">0</text>
<text x="177.3" y="590.2" fill="#222">0.2</text>
<text x="194.9" y="590.2" fill="#5a5048">0</text>
<text x="212.5" y="590.2" fill="#222">0.4</text>
<text x="54.1" y="607.8" fill="#5a5048">0</text>
<text x="71.7" y="607.8" fill="#5a5048">0</text>
<text x="89.3" y="607.8" fill="#5a5048">0</text>
<text x="106.9" y="607.8" fill="#5a5048">0</text>
<text x="124.5" y="607.8" fill="#5a5048">0</text>
<text x="142.1" y="607.8" fill="#5a5048">0</text>
<text x="159.7" y="607.8" fill="#fff">0.6</text>
<text x="177.3" y="607.8" fill="#5a5048">0</text>
<text x="194.9" y="607.8" fill="#5a5048">0</text>
<text x="212.5" y="607.8" fill="#222">0.4</text>
<text x="54.1" y="625.4" fill="#5a5048">0</text>
<text x="71.7" y="625.4" fill="#222">0.2</text>
<text x="89.3" y="625.4" fill="#5a5048">0</text>
<text x="106.9" y="625.4" fill="#5a5048">0</text>
<text x="124.5" y="625.4" fill="#222">0.2</text>
<text x="142.1" y="625.4" fill="#5a5048">0</text>
<text x="159.7" y="625.4" fill="#5a5048">0</text>
<text x="177.3" y="625.4" fill="#fff">0.6</text>
<text x="194.9" y="625.4" fill="#5a5048">0</text>
<text x="212.5" y="625.4" fill="#5a5048">0</text>
<text x="54.1" y="643.0" fill="#5a5048">0</text>
<text x="71.7" y="643.0" fill="#5a5048">0</text>
<text x="89.3" y="643.0" fill="#222">0.2</text>
<text x="106.9" y="643.0" fill="#5a5048">0</text>
<text x="124.5" y="643.0" fill="#5a5048">0</text>
<text x="142.1" y="643.0" fill="#5a5048">0</text>
<text x="159.7" y="643.0" fill="#5a5048">0</text>
<text x="177.3" y="643.0" fill="#5a5048">0</text>
<text x="194.9" y="643.0" fill="#fff">0.8</text>
<text x="212.5" y="643.0" fill="#5a5048">0</text>
<text x="54.1" y="660.6" fill="#5a5048">0</text>
<text x="71.7" y="660.6" fill="#5a5048">0</text>
<text x="89.3" y="660.6" fill="#5a5048">0</text>
<text x="106.9" y="660.6" fill="#5a5048">0</text>
<text x="124.5" y="660.6" fill="#222">0.2</text>
<text x="142.1" y="660.6" fill="#5a5048">0</text>
<text x="159.7" y="660.6" fill="#5a5048">0</text>
<text x="177.3" y="660.6" fill="#5a5048">0</text>
<text x="194.9" y="660.6" fill="#5a5048">0</text>
<text x="212.5" y="660.6" fill="#fff">0.8</text>
</g>
<g font-size="8.6" font-weight="bold" fill="#3a3a3a" text-anchor="middle">
<text x="38.2" y="503.6">0</text>
<text x="54.1" y="679.2">0</text>
<text x="38.2" y="521.2">1</text>
<text x="71.7" y="679.2">1</text>
<text x="38.2" y="538.8">2</text>
<text x="89.3" y="679.2">2</text>
<text x="38.2" y="556.4">3</text>
<text x="106.9" y="679.2">3</text>
<text x="38.2" y="574.0">4</text>
<text x="124.5" y="679.2">4</text>
<text x="38.2" y="591.6">5</text>
<text x="142.1" y="679.2">5</text>
<text x="38.2" y="609.2">6</text>
<text x="159.7" y="679.2">6</text>
<text x="38.2" y="626.8">7</text>
<text x="177.3" y="679.2">7</text>
<text x="38.2" y="644.4">8</text>
<text x="194.9" y="679.2">8</text>
<text x="38.2" y="662.0">9</text>
<text x="212.5" y="679.2">9</text>
</g>
<path d="M45.3 500.5 h-2 M45.3 518.1 h-2 M45.3 535.7 h-2 M45.3 553.3 h-2 M45.3 570.9 h-2 M45.3 588.5 h-2 M45.3 606.1 h-2 M45.3 623.7 h-2 M45.3 641.3 h-2 M45.3 658.9 h-2 M54.1 667.7 v2 M71.7 667.7 v2 M89.3 667.7 v2 M106.9 667.7 v2 M124.5 667.7 v2 M142.1 667.7 v2 M159.7 667.7 v2 M177.3 667.7 v2 M194.9 667.7 v2 M212.5 667.7 v2" stroke="#555" stroke-width="0.8"/>
<text transform="translate(28.8 618.3) rotate(-90)" font-size="17.3" textLength="77" lengthAdjust="spacingAndGlyphs" fill="#111">Real label</text>
<text x="76.3" y="700.2" font-size="17.4" textLength="115.3" lengthAdjust="spacingAndGlyphs" fill="#222">Predicted label</text>
<rect x="233" y="492.2" width="9.4" height="175.5" fill="url(#cb)" stroke="#777" stroke-width="0.6"/>
<g font-size="4.6" fill="#333">
<path d="M242.4 667.7 h1.6" stroke="#555" stroke-width="0.6"/>
<text x="245.3" y="669.3">0.0</text>
<path d="M242.4 632.6 h1.6" stroke="#555" stroke-width="0.6"/>
<text x="245.3" y="634.2">0.2</text>
<path d="M242.4 597.5 h1.6" stroke="#555" stroke-width="0.6"/>
<text x="245.3" y="599.1">0.4</text>
<path d="M242.4 562.4 h1.6" stroke="#555" stroke-width="0.6"/>
<text x="245.3" y="564.0">0.6</text>
<path d="M242.4 527.3 h1.6" stroke="#555" stroke-width="0.6"/>
<text x="245.3" y="528.9">0.8</text>
<path d="M242.4 492.2 h1.6" stroke="#555" stroke-width="0.6"/>
<text x="245.3" y="493.8">1.0</text>
</g>
</g>
<g id="c">
<text x="264" y="483.3" font-size="24.5" fill="#000">(c)</text>
<text x="344.8" y="480.8" font-size="15" textLength="68.2" lengthAdjust="spacingAndGlyphs" fill="#8a8a8a">Simulation</text>
<text x="426.8" y="481.6" font-size="15" textLength="141.5" lengthAdjust="spacingAndGlyphs" fill="#3b4fb0">OEND output signals</text>
<rect x="331.7" y="493.5" width="244.6" height="173.7" fill="none" stroke="#5a5a5a" stroke-width="1.2"/>
<rect x="341.9" y="531.7" width="9" height="135.5" fill="#888888"/>
<rect x="353.1" y="552.6" width="9.3" height="114.6" fill="#3b4fa8"/>
<rect x="382.4" y="552.6" width="9" height="114.6" fill="#888888"/>
<rect x="393.6" y="573.4" width="9.3" height="93.8" fill="#3b4fa8"/>
<rect x="422.9" y="597.7" width="9" height="69.5" fill="#888888"/>
<rect x="434.1" y="576.9" width="9.3" height="90.3" fill="#3b4fa8"/>
<rect x="463.4" y="569.9" width="9" height="97.3" fill="#888888"/>
<rect x="474.6" y="563.0" width="9.3" height="104.2" fill="#3b4fa8"/>
<rect x="503.9" y="531.7" width="9" height="135.5" fill="#888888"/>
<rect x="515.1" y="559.5" width="9.3" height="107.7" fill="#3b4fa8"/>
<rect x="544.4" y="517.8" width="9" height="149.4" fill="#888888"/>
<rect x="555.6" y="549.1" width="9.3" height="118.1" fill="#3b4fa8"/>
<g font-size="14.4" fill="#222" text-anchor="end">
<path d="M331.7 667.2 h-4.5" stroke="#5a5a5a" stroke-width="1.2"/>
<text x="318.6" y="672.3">0</text>
<path d="M331.7 632.5 h-4.5" stroke="#5a5a5a" stroke-width="1.2"/>
<text x="318.6" y="637.6">20</text>
<path d="M331.7 597.7 h-4.5" stroke="#5a5a5a" stroke-width="1.2"/>
<text x="318.6" y="602.8">40</text>
<path d="M331.7 563.0 h-4.5" stroke="#5a5a5a" stroke-width="1.2"/>
<text x="318.6" y="568.1">60</text>
<path d="M331.7 528.2 h-4.5" stroke="#5a5a5a" stroke-width="1.2"/>
<text x="318.6" y="533.3">80</text>
<path d="M331.7 493.5 h-4.5" stroke="#5a5a5a" stroke-width="1.2"/>
<text x="318.6" y="498.6">100</text>
</g>
<text transform="translate(290.5 630.8) rotate(-90)" font-size="17.2" textLength="100.6" lengthAdjust="spacingAndGlyphs" fill="#111">Accuracy / %</text>
<g font-size="12.1" fill="#222" text-anchor="end" stroke="#222" stroke-width="0.2">
<text transform="translate(371.5 680.3) rotate(-33)">Jackson</text>
<text transform="translate(410.0 680.3) rotate(-33)">Nicolas</text>
<text transform="translate(445.5 680.3) rotate(-33)">Theo</text>
<text transform="translate(496.4 680.3) rotate(-33)">Yweweler</text>
<text transform="translate(532.9 680.3) rotate(-33)">George</text>
<text transform="translate(569.5 680.3) rotate(-33)">Lucas</text>
</g>
</g>
<g id="d">
<text x="579" y="483.3" font-size="24.5" fill="#000">(d)</text>
<rect x="657.30" y="483.30" width="29.25" height="28.80" fill="#1d1f70"/>
<rect x="657.30" y="512.05" width="29.25" height="28.80" fill="#f6fbfe"/>
<rect x="686.50" y="512.05" width="29.25" height="28.80" fill="#3746a1"/>
<rect x="715.70" y="512.05" width="29.25" height="28.80" fill="#e5f3fc"/>
<rect x="774.10" y="512.05" width="29.25" height="28.80" fill="#f6fbfe"/>
<rect x="803.30" y="512.05" width="29.25" height="28.80" fill="#f6fbfe"/>
<rect x="657.30" y="540.80" width="29.25" height="28.80" fill="#edf7fd"/>
<rect x="686.50" y="540.80" width="29.25" height="28.80" fill="#e0f1fc"/>
<rect x="715.70" y="540.80" width="29.25" height="28.80" fill="#a0b9e1"/>
<rect x="744.90" y="540.80" width="29.25" height="28.80" fill="#f6fbfe"/>
<rect x="774.10" y="540.80" width="29.25" height="28.80" fill="#dceffb"/>
<rect x="803.30" y="540.80" width="29.25" height="28.80" fill="#cde5f7"/>
<rect x="657.30" y="569.55" width="29.25" height="28.80" fill="#e9f5fc"/>
<rect x="686.50" y="569.55" width="29.25" height="28.80" fill="#f6fbfe"/>
<rect x="715.70" y="569.55" width="29.25" height="28.80" fill="#f6fbfe"/>
<rect x="744.90" y="569.55" width="29.25" height="28.80" fill="#93acdb"/>
<rect x="774.10" y="569.55" width="29.25" height="28.80" fill="#dceffb"/>
<rect x="803.30" y="569.55" width="29.25" height="28.80" fill="#c0d8f1"/>
<rect x="657.30" y="598.30" width="29.25" height="28.80" fill="#fbfdfe"/>
<rect x="686.50" y="598.30" width="29.25" height="28.80" fill="#c0d8f1"/>
<rect x="715.70" y="598.30" width="29.25" height="28.80" fill="#f2f9fe"/>
<rect x="744.90" y="598.30" width="29.25" height="28.80" fill="#d7edfa"/>
<rect x="774.10" y="598.30" width="29.25" height="28.80" fill="#b3ccea"/>
<rect x="803.30" y="598.30" width="29.25" height="28.80" fill="#d7edfa"/>
<rect x="686.50" y="627.05" width="29.25" height="28.80" fill="#fbfdfe"/>
<rect x="715.70" y="627.05" width="29.25" height="28.80" fill="#f6fbfe"/>
<rect x="744.90" y="627.05" width="29.25" height="28.80" fill="#f2f9fe"/>
<rect x="774.10" y="627.05" width="29.25" height="28.80" fill="#e9f5fc"/>
<rect x="803.30" y="627.05" width="29.25" height="28.80" fill="#33419d"/>
<rect x="657.3" y="483.3" width="175.2" height="172.5" fill="none" stroke="#222" stroke-width="1.2"/>
<g font-size="12" text-anchor="middle">
<text x="671.9" y="502.1" fill="#fff">1</text>
<text x="701.1" y="502.1" fill="#333">0</text>
<text x="730.3" y="502.1" fill="#333">0</text>
<text x="759.5" y="502.1" fill="#333">0</text>
<text x="788.7" y="502.1" fill="#333">0</text>
<text x="817.9" y="502.1" fill="#333">0</text>
<text x="671.9" y="530.8" fill="#333">0.04</text>
<text x="701.1" y="530.8" fill="#fff">0.76</text>
<text x="730.3" y="530.8" fill="#333">0.12</text>
<text x="759.5" y="530.8" fill="#333">0</text>
<text x="788.7" y="530.8" fill="#333">0.04</text>
<text x="817.9" y="530.8" fill="#333">0.04</text>
<text x="671.9" y="559.6" fill="#333">0.08</text>
<text x="701.1" y="559.6" fill="#333">0.14</text>
<text x="730.3" y="559.6" fill="#333">0.36</text>
<text x="759.5" y="559.6" fill="#333">0.04</text>
<text x="788.7" y="559.6" fill="#333">0.16</text>
<text x="817.9" y="559.6" fill="#333">0.22</text>
<text x="671.9" y="588.3" fill="#333">0.1</text>
<text x="701.1" y="588.3" fill="#333">0.04</text>
<text x="730.3" y="588.3" fill="#333">0.04</text>
<text x="759.5" y="588.3" fill="#333">0.4</text>
<text x="788.7" y="588.3" fill="#333">0.16</text>
<text x="817.9" y="588.3" fill="#333">0.26</text>
<text x="671.9" y="617.1" fill="#333">0.02</text>
<text x="701.1" y="617.1" fill="#333">0.26</text>
<text x="730.3" y="617.1" fill="#333">0.06</text>
<text x="759.5" y="617.1" fill="#333">0.18</text>
<text x="788.7" y="617.1" fill="#333">0.3</text>
<text x="817.9" y="617.1" fill="#333">0.18</text>
<text x="671.9" y="645.8" fill="#333">0</text>
<text x="701.1" y="645.8" fill="#333">0.02</text>
<text x="730.3" y="645.8" fill="#333">0.04</text>
<text x="759.5" y="645.8" fill="#333">0.06</text>
<text x="788.7" y="645.8" fill="#333">0.1</text>
<text x="817.9" y="645.8" fill="#fff">0.78</text>
</g>
<g font-size="10.8" fill="#333" text-anchor="middle" stroke="#333" stroke-width="0.25">
<text x="626.5" y="501.1">Jackson</text>
<text x="626.5" y="529.8">Nicolas</text>
<text x="626.5" y="558.6">Theo</text>
<text x="626.5" y="587.3">Yweweler</text>
<text x="626.5" y="616.1">George</text>
<text x="626.5" y="644.8">Lucas</text>
</g>
<path d="M657.3 497.7 h-2.5 M657.3 526.4 h-2.5 M657.3 555.2 h-2.5 M657.3 583.9 h-2.5 M657.3 612.7 h-2.5 M657.3 641.4 h-2.5" stroke="#333" stroke-width="0.8"/>
<g font-size="11.3" fill="#333" text-anchor="end" stroke="#333" stroke-width="0.2">
<text transform="translate(689.3 668.3) rotate(-30)">Jackson</text>
<text transform="translate(716.6 668.3) rotate(-30)">Nicolas</text>
<text transform="translate(741.0 668.3) rotate(-30)">Theo</text>
<text transform="translate(780.2 668.3) rotate(-30)">Yweweler</text>
<text transform="translate(805.6 668.3) rotate(-30)">George</text>
<text transform="translate(831.0 668.3) rotate(-30)">Lucas</text>
</g>
<text transform="translate(598.5 603.8) rotate(-90)" font-size="17.3" textLength="77.2" lengthAdjust="spacingAndGlyphs" fill="#111">Real label</text>
<text x="689.6" y="706.3" font-size="17.4" textLength="114.5" lengthAdjust="spacingAndGlyphs" fill="#222">Predicted label</text>
<rect x="847.3" y="482" width="8.8" height="175.5" fill="url(#cb)" stroke="#777" stroke-width="0.6"/>
<g font-size="4.6" fill="#333">
<path d="M856.1 657.5 h1.6" stroke="#555" stroke-width="0.6"/>
<text x="859" y="659.1">0.0</text>
<path d="M856.1 622.4 h1.6" stroke="#555" stroke-width="0.6"/>
<text x="859" y="624.0">0.2</text>
<path d="M856.1 587.3 h1.6" stroke="#555" stroke-width="0.6"/>
<text x="859" y="588.9">0.4</text>
<path d="M856.1 552.2 h1.6" stroke="#555" stroke-width="0.6"/>
<text x="859" y="553.8">0.6</text>
<path d="M856.1 517.1 h1.6" stroke="#555" stroke-width="0.6"/>
<text x="859" y="518.7">0.8</text>
<path d="M856.1 482.0 h1.6" stroke="#555" stroke-width="0.6"/>
<text x="859" y="483.6">1.0</text>
</g>
</g>
</svg></body></html>
